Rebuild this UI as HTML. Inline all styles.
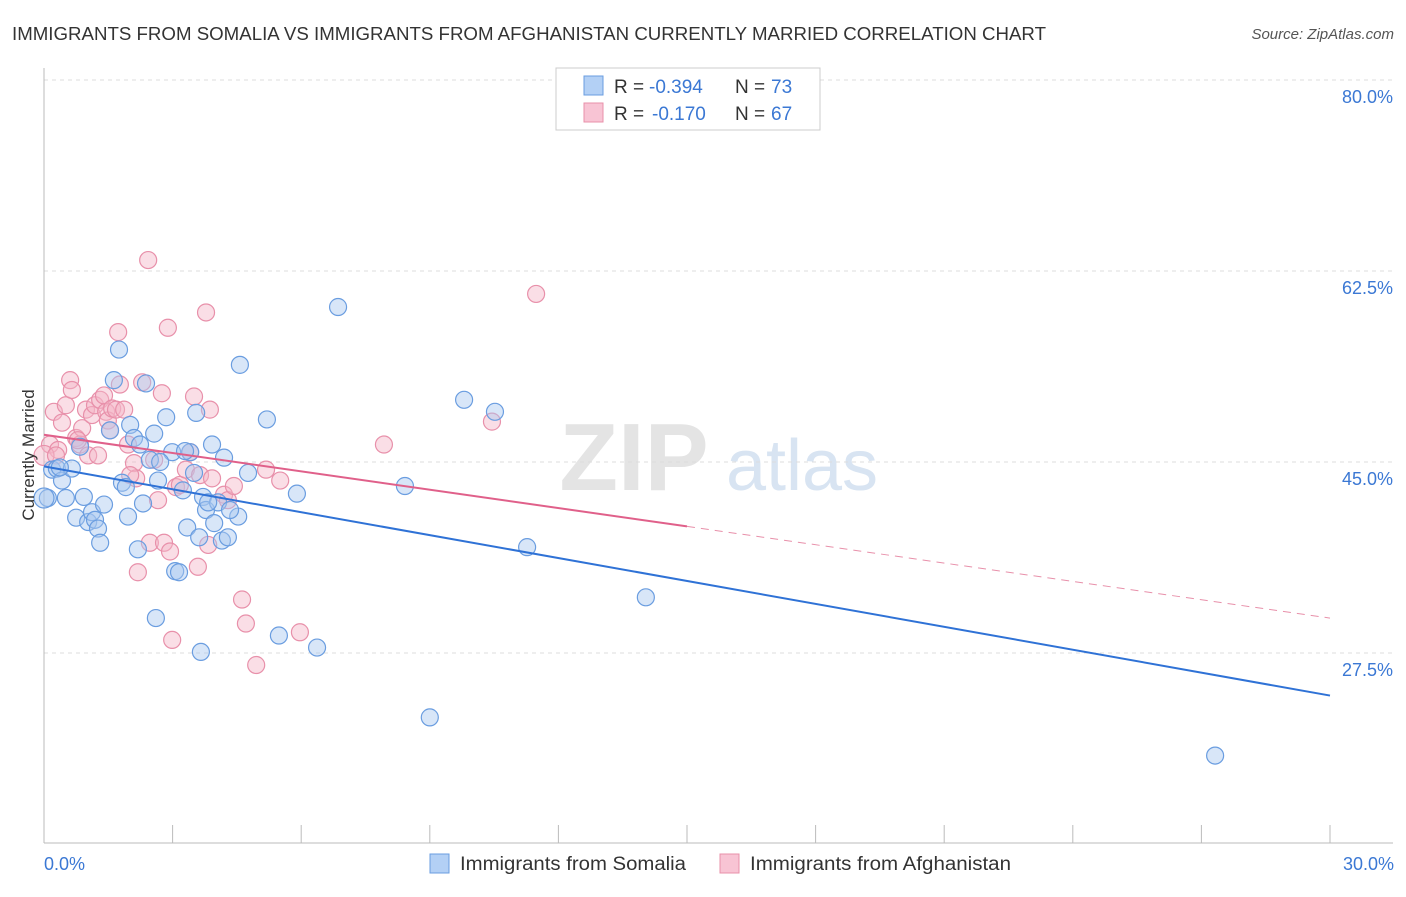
<!DOCTYPE html>
<html><head><meta charset="utf-8">
<style>
body{margin:0;background:#fff;font-family:"Liberation Sans",sans-serif;}
svg text{font-family:"Liberation Sans",sans-serif;}
</style></head>
<body>
<svg id="chart" width="1406" height="892" xmlns="http://www.w3.org/2000/svg">
<text x="12" y="40" font-size="18" fill="#333" textLength="1034" lengthAdjust="spacingAndGlyphs">IMMIGRANTS FROM SOMALIA VS IMMIGRANTS FROM AFGHANISTAN CURRENTLY MARRIED CORRELATION CHART</text>
<text x="1394" y="39" font-size="15" fill="#555" text-anchor="end" font-style="italic">Source: ZipAtlas.com</text>
<g>
<text x="634" y="490" font-size="96" fill="#e4e4e4" font-family="Liberation Serif" text-anchor="middle" font-weight="bold">ZIP</text>
<text x="802" y="490" font-size="72" fill="#d8e4f2" text-anchor="middle">atlas</text>
</g>
<g id="grid"></g>
<g id="axes"></g>
<g id="pts"></g>
<g id="trends"></g>
<text x="34" y="455" font-size="17" fill="#333" text-anchor="middle" transform="rotate(-90 34 455)">Currently Married</text>
<g>
<rect x="556" y="68" width="264" height="62" fill="#fff" stroke="#ccc"/>
<rect x="584" y="76" width="19" height="19" fill="#b3d0f5" stroke="#6a9de0"/>
<rect x="584" y="103" width="19" height="19" fill="#f8c4d4" stroke="#e890aa"/>
<text x="614" y="93" font-size="19" fill="#333">R =</text>
<text x="649" y="93" font-size="19" fill="#3b78d4">-0.394</text>
<text x="735" y="93" font-size="19" fill="#333">N =</text>
<text x="771" y="93" font-size="19" fill="#3b78d4">73</text>
<text x="614" y="120" font-size="19" fill="#333">R =</text>
<text x="652" y="120" font-size="19" fill="#3b78d4">-0.170</text>
<text x="735" y="120" font-size="19" fill="#333">N =</text>
<text x="771" y="120" font-size="19" fill="#3b78d4">67</text>
</g>
<g>
<rect x="430" y="854" width="19" height="19" fill="#b3d0f5" stroke="#6a9de0"/>
<text x="460" y="870" font-size="19" fill="#333" textLength="226" lengthAdjust="spacingAndGlyphs">Immigrants from Somalia</text>
<rect x="720" y="854" width="19" height="19" fill="#f8c4d4" stroke="#e890aa"/>
<text x="750" y="870" font-size="19" fill="#333" textLength="261" lengthAdjust="spacingAndGlyphs">Immigrants from Afghanistan</text>
</g>
</svg>
<script>
const yTicks=[80,62.5,45,27.5];
const yTickLabels=["80.0%","62.5%","45.0%","27.5%"];
const xTicks=[0,3,6,9,12,15,18,21,24,27,30];
const xEndLabels=["0.0%","30.0%"];
const somaliaX=[0.09,0.19,0.30,0.42,0.51,0.65,0.84,0.93,0.75,1.03,1.12,1.19,1.26,1.31,1.40,1.54,1.63,1.75,1.82,1.91,1.96,2.01,2.10,2.19,2.31,2.38,2.47,2.57,2.61,2.66,2.85,2.99,3.06,3.15,3.24,3.34,3.41,3.50,3.55,3.62,3.66,3.71,3.78,3.92,3.97,4.06,4.15,4.20,4.29,4.53,4.57,4.76,5.20,5.48,5.90,6.37,6.86,8.42,9.00,9.80,10.52,11.27,14.04,27.32,0.0,0.37,2.24,2.71,3.29,3.83,4.34];
const somaliaY=[41.7,44.3,44.4,43.3,41.7,44.4,46.4,41.8,39.9,39.5,40.4,39.7,38.9,37.6,41.1,47.9,52.5,55.3,43.1,42.7,40.0,48.4,47.2,37.0,41.2,52.2,45.2,47.6,30.7,43.3,49.1,45.9,35.0,34.9,42.4,39.0,45.9,44.0,49.5,38.1,27.6,41.8,40.6,46.6,39.4,41.3,37.8,45.4,38.1,40.0,53.9,44.0,48.9,29.1,42.1,28.0,59.2,42.8,21.6,50.7,49.6,37.2,32.6,18.1,41.7,44.5,46.6,45.0,46.0,41.3,40.6];
const afghanX=[0.14,0.23,0.33,0.42,0.51,0.61,0.65,0.75,0.84,0.89,0.98,1.03,1.12,1.19,1.26,1.31,1.40,1.45,1.49,1.54,1.59,1.68,1.73,1.77,1.87,1.96,2.10,2.15,2.19,2.29,2.43,2.47,2.57,2.66,2.75,2.80,2.89,2.94,2.99,3.08,3.17,3.31,3.41,3.50,3.59,3.64,3.78,3.83,3.87,3.92,4.20,4.29,4.43,4.62,4.71,4.95,5.18,5.51,5.97,7.93,10.45,11.48,0,0.28,0.79,2.01];
const afghanY=[46.6,49.6,46.1,48.6,50.2,52.5,51.6,47.2,46.6,48.1,49.8,45.6,49.3,50.2,45.6,50.7,51.1,49.6,48.8,47.9,49.9,49.8,56.9,52.1,49.8,46.6,44.9,43.5,34.9,52.3,63.5,37.6,45.2,41.5,51.3,37.6,57.3,36.8,28.7,42.7,42.9,44.3,45.9,51.0,35.4,43.8,58.7,37.4,49.8,43.5,42.0,41.5,42.8,32.4,30.2,26.4,44.3,43.3,29.4,46.6,48.7,60.4,45.6,45.6,47.0,43.8];
const somaliaTrend=[44.6,23.6];
const afghanTrend=[47.5,30.7];
const afghanSolidEnd=15;

const NS="http://www.w3.org/2000/svg";
const X0=44,X1=1330,Y80=80,PXPER=191/17.5;
const sx=v=>X0+(X1-X0)*v/30;
const sy=v=>Y80+(80-v)*PXPER;
function mk(tag,attrs,parent){const e=document.createElementNS(NS,tag);for(const k in attrs)e.setAttribute(k,attrs[k]);parent.appendChild(e);return e;}
const grid=document.getElementById('grid'),axes=document.getElementById('axes'),pts=document.getElementById('pts'),tr=document.getElementById('trends');
yTicks.forEach((t,i)=>{
 const l=mk('line',{x1:X0,x2:1393,y1:sy(t),y2:sy(t),stroke:'#ddd','stroke-dasharray':'4,4'},grid);
 
 
 const tx=mk('text',{x:1393,y:sy(t)+23,'font-size':18,fill:'#3b78d4','text-anchor':'end'},axes);
 tx.textContent=yTickLabels[i];
 
 
});
const yb=843;
const ax=mk('line',{x1:X0,x2:1393,y1:yb,y2:yb,stroke:'#bbb'},axes);


const ay=mk('line',{x1:X0,x2:X0,y1:68,y2:yb,stroke:'#bbb'},axes);


xTicks.forEach(t=>{
 const l=mk('line',{x1:sx(t),x2:sx(t),y1:yb-18,y2:yb,stroke:'#bbb'},axes);
 
 
});
[[0,'start',44],[30,'end',1394]].forEach((d,i)=>{
 const tx=mk('text',{x:d[2],y:870,'font-size':18,fill:'#3b78d4','text-anchor':d[1]},axes);
 tx.textContent=xEndLabels[i];
 
 
});
function drawPts(xs,ys,fill,stroke,name){
 xs.forEach((v,i)=>{
  const r=(v===0)?10:8.5;
  const c=mk('circle',{cx:sx(v),cy:sy(ys[i]),r:r,fill:fill,'fill-opacity':0.45,stroke:stroke,'stroke-width':1.2},pts);
  
  
 });
}
drawPts(afghanX,afghanY,'#f5b5c8','#e890aa','point-afghanistan');
drawPts(somaliaX,somaliaY,'#a8c8f0','#6a9de0','point-somalia');
const bl=mk('line',{x1:sx(0),y1:sy(somaliaTrend[0]),x2:sx(30),y2:sy(somaliaTrend[1]),stroke:'#2f72d6','stroke-width':2},tr);


const pm=afghanTrend[0]+(afghanTrend[1]-afghanTrend[0])*afghanSolidEnd/30;
const pl=mk('line',{x1:sx(0),y1:sy(afghanTrend[0]),x2:sx(afghanSolidEnd),y2:sy(pm),stroke:'#e0608a','stroke-width':2},tr);


const pd=mk('line',{x1:sx(afghanSolidEnd),y1:sy(pm),x2:sx(30),y2:sy(afghanTrend[1]),stroke:'#e890aa','stroke-width':1,'stroke-dasharray':'8,6'},tr);


</script>
</body></html>
